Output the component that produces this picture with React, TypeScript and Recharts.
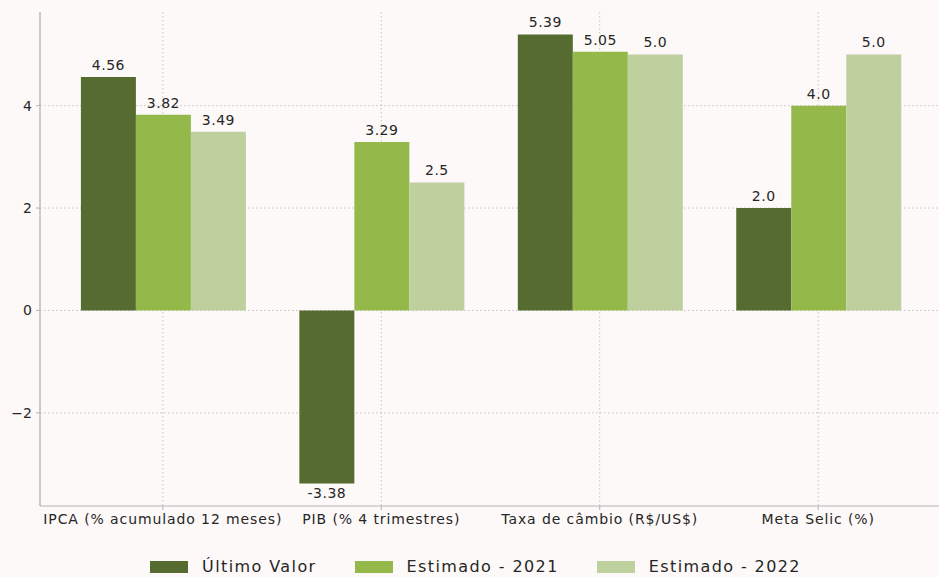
import React from "react";
import {
  BarChart, Bar, XAxis, YAxis, CartesianGrid, Legend, LabelList,
} from "recharts";

const categories = [
  "IPCA (% acumulado 12 meses)",
  "PIB (% 4 trimestres)",
  "Taxa de câmbio (R$/US$)",
  "Meta Selic (%)",
];
const ultimoValor = [4.56, -3.38, 5.39, 2.0];
const estimado2021 = [3.82, 3.29, 5.05, 4.0];
const estimado2022 = [3.49, 2.5, 5.0, 5.0];
const yTicks = [-2, 0, 2, 4];
const Y_MIN = -3.8185;
const Y_MAX = 5.8285;

const SERIES = [
  { key: "ultimo", name: "Último Valor", color: "#556b2f" },
  { key: "est2021", name: "Estimado - 2021", color: "#94b94a" },
  { key: "est2022", name: "Estimado - 2022", color: "#bfd09f" },
];

const data = categories.map((c, i) => ({
  categoria: c,
  ultimo: ultimoValor[i],
  est2021: estimado2021[i],
  est2022: estimado2022[i],
}));

const FONT = "'DejaVu Sans', sans-serif";
const BG = "#fdf9f8";
const AXIS = "#b3b3b3";

const fmt = (v: number) => (Number.isInteger(v) ? v.toFixed(1) : String(v));

const ValueLabel = (props: any) => {
  const { x, y, width, height, value } = props;
  const top = Math.min(y, y + height);
  const bottom = Math.max(y, y + height);
  const neg = value < 0;
  return (
    <text
      x={x + width / 2}
      y={neg ? bottom + 14 : top - 7}
      textAnchor="middle"
      fontSize={14}
      letterSpacing={0.5}
      fill="#262626"
      fontFamily={FONT}
    >
      {fmt(value)}
    </text>
  );
};

const LegendContent = () => (
  <div
    style={{
      height: 41,
      paddingTop: 20,
      paddingLeft: 10,
      boxSizing: "border-box",
      display: "flex",
      justifyContent: "center",
      alignItems: "center",
      fontFamily: FONT,
      fontSize: 16,
      letterSpacing: 1.4,
      color: "#262626",
    }}
  >
    {SERIES.map((s, i) => (
      <div key={s.key} style={{ display: "flex", alignItems: "center", marginLeft: i ? 38 : 0, height: 20 }}>
        <span style={{ width: 38, height: 12, background: s.color, marginRight: 14, display: "inline-block" }} />
        <span>{s.name}</span>
      </div>
    ))}
  </div>
);

// only the tick rows, not the top edge of the plot
const hLines = (args: any) => {
  const off = args.offset || {};
  const top = off.top ?? 12;
  const h = off.height ?? 494;
  return yTicks.map((t) => top + ((Y_MAX - t) / (Y_MAX - Y_MIN)) * h);
};

export default function App() {
  return (
    <div style={{ position: "fixed", left: 0, top: 0, width: 939, height: 577, overflow: "hidden", background: BG }}>
      <BarChart
        width={945}
        height={577}
        data={data}
        margin={{ top: 12, right: 4, bottom: 0, left: 0 }}
        barCategoryGap="12.5%"
        barGap={0}
      >
        <XAxis
          dataKey="categoria"
          interval={0}
          padding={{ left: 13.6, right: 13.6 }}
          height={30}
          tickSize={4}
          tickMargin={4}
          axisLine={{ stroke: AXIS, strokeWidth: 1.2 }}
          tickLine={{ stroke: AXIS }}
          tick={{ fill: "#262626", fontSize: 14, fontFamily: FONT, letterSpacing: 0.9 }}
        />
        <YAxis
          width={40}
          domain={[Y_MIN, Y_MAX]}
          ticks={yTicks}
          allowDataOverflow
          tickSize={4}
          tickMargin={4}
          tickFormatter={(v: number) => (v < 0 ? "\u2212" + Math.abs(v) : String(v))}
          axisLine={{ stroke: AXIS, strokeWidth: 1.2 }}
          tickLine={{ stroke: AXIS }}
          tick={{ fill: "#262626", fontSize: 14, fontFamily: FONT }}
        />
        {SERIES.map((s) => (
          <Bar key={s.key} dataKey={s.key} name={s.name} fill={s.color} isAnimationActive={false}>
            <LabelList dataKey={s.key} content={<ValueLabel />} />
          </Bar>
        ))}
        <CartesianGrid
          stroke="#c4c4c4"
          strokeDasharray="1.5 2.5"
          horizontalCoordinatesGenerator={hLines}
        />
        <Legend verticalAlign="bottom" height={41} content={<LegendContent />} />
      </BarChart>
    </div>
  );
}
